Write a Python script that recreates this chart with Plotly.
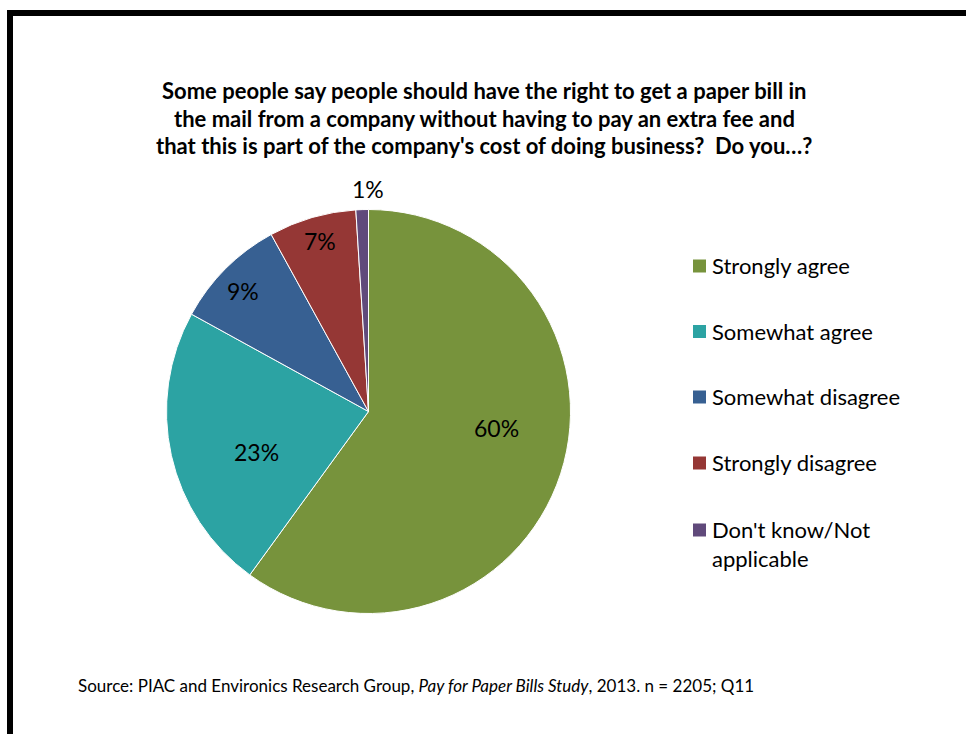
import math
import plotly.graph_objects as go

# Survey responses (percent of respondents)
categories = ["Strongly agree", "Somewhat agree", "Somewhat disagree",
              "Strongly disagree", "Don't know/Not applicable"]
values = [60, 23, 9, 7, 1]
colors = ["#77933C", "#2CA3A3", "#376092", "#953735", "#604A7B"]
legend_labels = ["Strongly agree", "Somewhat agree", "Somewhat disagree",
                 "Strongly disagree", "Don't know/Not<br>applicable"]
# value-label placement: distance from centre (fraction of radius)
# and an angular nudge away from the slice's mid-angle (degrees)
label_radius = [0.64, 0.59, 0.86, 0.88, 1.10]
label_nudge = [-10.6, -7.4, -1.2, 0.3, 1.8]

title_lines = [
    "Some people say people should have the right to get a paper bill in",
    "the mail from a company without having to pay an extra fee and",
    "that this is part of the company's cost of doing business?  Do you…?",
]
source_text = ("Source: PIAC and Environics Research Group, "
               "<i>Pay for Paper Bills Study</i>, 2013. n = 2205; Q11")

W, H = 966, 734
FONT = "Lato, Open Sans, sans-serif"

# pie geometry in pixels
CX, CY, R = 368.5, 411.5, 202


def px(x):
    return x / W


def py(y):
    return 1 - y / H


fig = go.Figure()

fig.add_trace(go.Pie(
    labels=categories,
    values=values,
    sort=False,
    direction="clockwise",
    rotation=0,
    marker=dict(colors=colors, line=dict(color="#FFFFFF", width=1)),
    textinfo="none",
    showlegend=False,
    hoverinfo="label+value",
    domain=dict(x=[px(CX - R), px(CX + R)], y=[py(CY + R), py(CY - R)]),
))

annotations = []

# Value labels around each slice's mid-angle (clockwise from 12 o'clock)
total = sum(values)
cum = 0
for v, frac, nudge in zip(values, label_radius, label_nudge):
    mid = (cum + v / 2) / total * 2 * math.pi + math.radians(nudge)
    cum += v
    lx = CX + frac * R * math.sin(mid)
    ly = CY - frac * R * math.cos(mid)
    annotations.append(dict(
        text=f"{v}%", x=px(lx), y=py(ly), xref="paper", yref="paper",
        xanchor="center", yanchor="middle", showarrow=False,
        font=dict(family=FONT, size=23, color="#000000"),
    ))

# Title, one annotation per line
for i, line in enumerate(title_lines):
    annotations.append(dict(
        text=f"<b>{line}</b>", x=px(484), y=py(90 + 28 * i),
        xref="paper", yref="paper", xanchor="center", yanchor="middle",
        showarrow=False, font=dict(family=FONT, size=22, color="#000000"),
    ))

# Legend: colour squares with labels
shapes = []
legend_y = [266, 331.5, 397, 463, 530]
for lab, col, y in zip(legend_labels, colors, legend_y):
    shapes.append(dict(type="rect", xref="paper", yref="paper",
                       x0=px(693), x1=px(706), y0=py(y + 6.5), y1=py(y - 6.5),
                       fillcolor=col, line=dict(width=0)))
    annotations.append(dict(
        text=lab, x=px(710), y=py(y - 16), xref="paper", yref="paper",
        xanchor="left", yanchor="top", align="left", showarrow=False,
        font=dict(family=FONT, size=22, color="#000000"),
    ))

# Source note
annotations.append(dict(
    text=source_text, x=px(76), y=py(685), xref="paper", yref="paper",
    xanchor="left", yanchor="middle", showarrow=False,
    font=dict(family=FONT, size=17, color="#000000"),
))

# Black frame on the left and top edges
shapes.append(dict(type="rect", xref="paper", yref="paper",
                   x0=px(7), x1=px(13), y0=0, y1=py(10),
                   fillcolor="#000000", line=dict(width=0)))
shapes.append(dict(type="rect", xref="paper", yref="paper",
                   x0=px(7), x1=1, y0=py(16), y1=py(10),
                   fillcolor="#000000", line=dict(width=0)))

fig.update_layout(
    width=W, height=H,
    margin=dict(l=0, r=0, t=0, b=0),
    paper_bgcolor="#FFFFFF",
    plot_bgcolor="#FFFFFF",
    annotations=annotations,
    shapes=shapes,
    font=dict(family=FONT),
)

fig.write_html("out.html")
